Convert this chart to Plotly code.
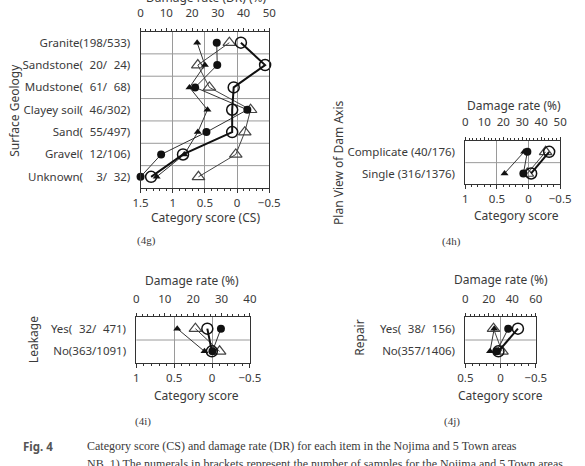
import plotly.graph_objects as go

W, H = 585, 466


def px(x):
    return x / W


def py(y):
    return 1 - y / H


FS = "\u2007"  # figure space (digit width)

# ---------------- data ----------------
# (4g) Surface Geology
g_cats = ["Granite(198/533)", f"Sandstone({FS}20/{FS}24)", f"Mudstone({FS}61/{FS}68)",
          f"Clayey soil({FS}46/302)", f"Sand({FS}55/497)", f"Gravel({FS}12/106)",
          f"Unknown({FS}{FS}3/{FS}32)"]
g_cs_a = [0.62, 0.50, 0.74, 0.46, 0.61, 0.82, 1.25]      # filled triangle (CS)
g_cs_b = [0.12, 0.61, 0.43, -0.21, -0.12, 0.02, 0.60]    # open triangle (CS)
g_dr_a = [29.6, 29.8, 21.2, 41.5, 25.6, 8.0, 0.0]        # filled circle (DR)
g_dr_b = [39.0, 48.4, 36.2, 35.6, 35.6, 16.5, 4.1]       # open circle (DR)

# (4h) Plan View of Dam Axis
h_cats = ["Complicate (40/176)", "Single (316/1376)"]
h_cs_a = [0.07, 0.38]
h_cs_b = [-0.27, 0.02]
h_dr_a = [32.7, 30.6]
h_dr_b = [44.2, 34.7]

# (4i) Leakage
i_cats = [f"Yes({FS}32/{FS}471)", "No(363/1091)"]
i_cs_a = [0.46, 0.10]
i_cs_b = [0.22, -0.10]
i_dr_a = [29.8, 26.8]
i_dr_b = [25.0, 26.6]

# (4j) Repair
j_cats = [f"Yes({FS}38/{FS}156)", "No(357/1406)"]
j_cs_a = [0.09, 0.15]
j_cs_b = [0.10, -0.02]
j_dr_a = [36.5, 26.8]
j_dr_b = [44.8, 28.2]

panels = [
    dict(cats=g_cats, cs_a=g_cs_a, cs_b=g_cs_b, dr_a=g_dr_a, dr_b=g_dr_b,
         box=(137, 270, 31.5, 188), cs_range=[1.5, -0.5], dr_range=[0, 50], dr_dtick=10, dr_minor=2,
         ytitle="Surface Geology", ytitle_xy=(6, 110),
         toptitle="Damage rate (DR) (%)", toptitle_xy=(205, -2),
         bottitle="Category score (CS)", bottitle_xy=(204, 217),
         cap="(4g)", cap_xy=(143, 240)),
    dict(cats=h_cats, cs_a=h_cs_a, cs_b=h_cs_b, dr_a=h_dr_a, dr_b=h_dr_b,
         box=(472.7, 570.7, 141, 184.3), cs_range=[1, -0.5], dr_range=[0, 50], dr_dtick=10, dr_minor=2,
         ytitle="Plan View of Dam Axis", ytitle_xy=(341, 163),
         toptitle="Damage rate (%)", toptitle_xy=(523, 105),
         bottitle="Category score", bottitle_xy=(526, 215),
         cap="(4h)", cap_xy=(458, 242)),
    dict(cats=i_cats, cs_a=i_cs_a, cs_b=i_cs_b, dr_a=i_dr_a, dr_b=i_dr_b,
         box=(132.7, 250, 317.3, 362.7), cs_range=[1, -0.5], dr_range=[0, 40], dr_dtick=10, dr_minor=2,
         ytitle="Leakage", ytitle_xy=(26, 340),
         toptitle="Damage rate (%)", toptitle_xy=(190, 280.5),
         bottitle="Category score", bottitle_xy=(195, 395),
         cap="(4i)", cap_xy=(140, 421)),
    dict(cats=j_cats, cs_a=j_cs_a, cs_b=j_cs_b, dr_a=j_dr_a, dr_b=j_dr_b,
         box=(472.7, 545.5, 317.3, 362.7), cs_range=[0.5, -0.5], dr_range=[0, 60], dr_dtick=20, dr_minor=4,
         ytitle="Repair", ytitle_xy=(362.5, 338),
         toptitle="Damage rate (%)", toptitle_xy=(510, 279.5),
         bottitle="Category score", bottitle_xy=(509, 395),
         cap="(4j)", cap_xy=(459, 421)),
]

SANS = "Noto Sans, DejaVu Sans, sans-serif"
SERIF = "Liberation Serif, DejaVu Serif, serif"
TXT = "#3a3a3a"
LINE = "#333333"
GRID = "#9a9a9a"

fig = go.Figure()
layout = dict(width=W, height=H, margin=dict(l=0, r=0, t=0, b=0),
              paper_bgcolor="white", plot_bgcolor="white", showlegend=False,
              font=dict(family=SANS, size=11, color=TXT))
annotations = []
shapes = []

for k, p in enumerate(panels):
    n = 2 * k + 1
    xb = "x" if n == 1 else f"x{n}"
    xt = f"x{n + 1}"
    yid = "y" if k == 0 else f"y{k + 1}"
    xb_key = "xaxis" if n == 1 else f"xaxis{n}"
    xt_key = f"xaxis{n + 1}"
    y_key = "yaxis" if k == 0 else f"yaxis{k + 1}"
    x0, x1, y0, y1 = p["box"]
    ncat = len(p["cats"])

    layout[xb_key] = dict(domain=[px(x0), px(x1)], anchor=yid, range=p["cs_range"],
                          dtick=0.5, tick0=0, showgrid=True, gridcolor=GRID, gridwidth=1,
                          zeroline=False, showline=True, linecolor=LINE, linewidth=1,
                          ticks="outside", ticklen=4, tickcolor=LINE,
                          minor=dict(dtick=0.1, tick0=0, ticks="outside", ticklen=2, tickcolor=LINE, showgrid=False),
                          tickfont=dict(size=11.5, color=TXT), fixedrange=True)
    layout[xt_key] = dict(overlaying=xb, anchor=yid, side="top", range=p["dr_range"],
                          dtick=p["dr_dtick"], tick0=0, showgrid=False, zeroline=False,
                          showline=True, linecolor=LINE, linewidth=1,
                          ticks="outside", ticklen=3, tickcolor=LINE, ticklabelstandoff=6,
                          minor=dict(dtick=p["dr_minor"], tick0=0, ticks="outside", ticklen=2, tickcolor=LINE),
                          tickfont=dict(size=11.5, color=TXT), fixedrange=True)
    layout[y_key] = dict(domain=[py(y1), py(y0)], anchor=xb, type="category",
                         categoryorder="array", categoryarray=p["cats"],
                         range=[ncat - 0.5, -0.5], showgrid=False, zeroline=False,
                         showline=True, mirror=True, linecolor=LINE, linewidth=1,
                         ticks="", ticklabelstandoff=7,
                         tickfont=dict(size=11.5, color=TXT), fixedrange=True)

    for i in range(ncat - 1):
        shapes.append(dict(type="line", xref=f"{xb} domain", yref=yid, x0=0, x1=1,
                           y0=i + 0.5, y1=i + 0.5, line=dict(color=GRID, width=1), layer="below"))

    # open triangle (CS)
    fig.add_trace(go.Scatter(x=p["cs_b"], y=p["cats"], xaxis=xb, yaxis=yid, mode="lines+markers",
                             line=dict(color="#444", width=1),
                             marker=dict(symbol="triangle-up-open", size=11, color="#444",
                                         line=dict(width=1.2, color="#444")), cliponaxis=False))
    # filled circle (DR)
    fig.add_trace(go.Scatter(x=p["dr_a"], y=p["cats"], xaxis=xt, yaxis=yid, mode="lines+markers",
                             line=dict(color="#333", width=1),
                             marker=dict(symbol="circle", size=8, color="#111"), cliponaxis=False))
    # open circle (DR), thick line
    fig.add_trace(go.Scatter(x=p["dr_b"], y=p["cats"], xaxis=xt, yaxis=yid, mode="lines+markers",
                             line=dict(color="#111", width=2),
                             marker=dict(symbol="circle-open", size=11, color="#111",
                                         line=dict(width=1.5, color="#111")), cliponaxis=False))
    # filled triangle (CS)
    fig.add_trace(go.Scatter(x=p["cs_a"], y=p["cats"], xaxis=xb, yaxis=yid, mode="lines+markers",
                             line=dict(color="#333", width=1),
                             marker=dict(symbol="triangle-up", size=7, color="#111"), cliponaxis=False))

    tx, ty = p["ytitle_xy"]
    annotations.append(dict(text=p["ytitle"], x=px(tx), y=py(ty), xref="paper", yref="paper",
                            showarrow=False, textangle=-90, xanchor="center", yanchor="middle",
                            font=dict(size=12, color=TXT, family=SANS)))
    tx, ty = p["toptitle_xy"]
    annotations.append(dict(text=p["toptitle"], x=px(tx), y=py(ty), xref="paper", yref="paper",
                            showarrow=False, xanchor="center", yanchor="middle",
                            font=dict(size=12, color=TXT, family=SANS)))
    tx, ty = p["bottitle_xy"]
    annotations.append(dict(text=p["bottitle"], x=px(tx), y=py(ty), xref="paper", yref="paper",
                            showarrow=False, xanchor="center", yanchor="middle",
                            font=dict(size=12, color=TXT, family=SANS)))
    tx, ty = p["cap_xy"]
    annotations.append(dict(text=p["cap"], x=px(tx), y=py(ty), xref="paper", yref="paper",
                            showarrow=False, xanchor="center", yanchor="middle",
                            font=dict(size=11, color=TXT, family=SERIF)))

annotations.append(dict(text="<b>Fig. 4</b>", x=px(13), y=py(446), xref="paper", yref="paper",
                        showarrow=False, xanchor="left", yanchor="middle",
                        font=dict(size=11.5, color="#555", family=SANS)))
annotations.append(dict(text="Category score (CS) and damage rate (DR) for each item in the Nojima and 5 Town areas",
                        x=px(80), y=py(446), xref="paper", yref="paper",
                        showarrow=False, xanchor="left", yanchor="middle",
                        font=dict(size=12, color=TXT, family=SERIF)))
annotations.append(dict(text="NB. 1) The numerals in brackets represent the number of samples for the Nojima and 5 Town areas,",
                        x=px(80), y=py(464), xref="paper", yref="paper",
                        showarrow=False, xanchor="left", yanchor="middle",
                        font=dict(size=12, color=TXT, family=SERIF)))

layout["annotations"] = annotations
layout["shapes"] = shapes
fig.update_layout(**layout)
fig.write_html("out.html")
